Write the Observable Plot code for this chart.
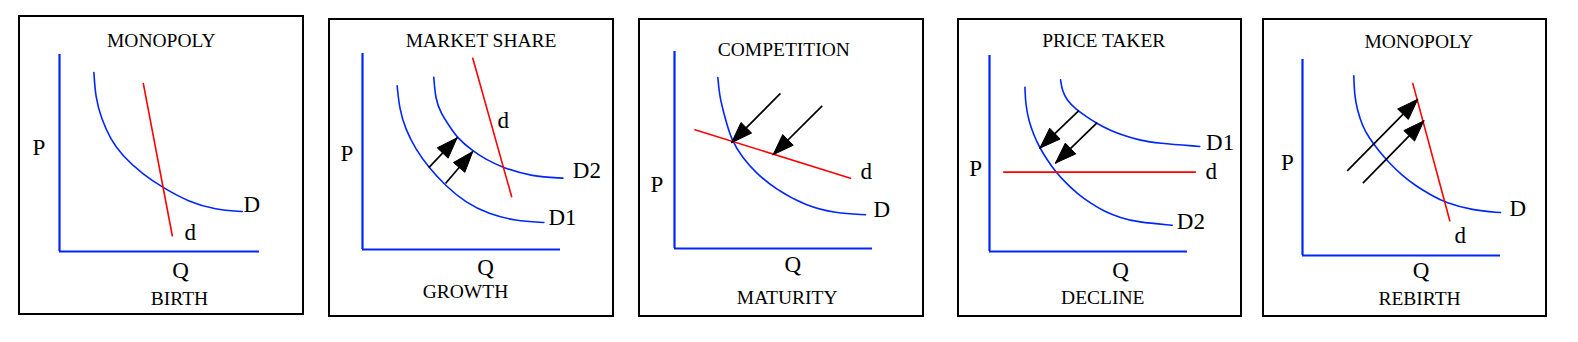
<!DOCTYPE html>
<html>
<head>
<meta charset="utf-8">
<script src="https://cdn.jsdelivr.net/npm/d3@7"></script>
<script src="https://cdn.jsdelivr.net/npm/@observablehq/plot@0.6"></script>
<style>
  html, body { margin: 0; padding: 0; background: #fff; }
  body { position: relative; width: 1578px; height: 342px; overflow: hidden; }
  .chart { position: absolute; max-width: none !important; background: transparent !important; overflow: visible; }
  .frame { position: absolute; border: 2px solid #000; box-sizing: border-box; pointer-events: none; }
</style>
</head>
<body>
<script>
// ---------- text ----------
const titles = ["MONOPOLY", "MARKET SHARE", "COMPETITION", "PRICE TAKER", "MONOPOLY"];
const stages = ["BIRTH", "GROWTH", "MATURITY", "DECLINE", "REBIRTH"];

// ---------- data: [Q, P] in axis units (0-100) ----------
const birthDemand = [[17.2,90.9],[18,78.2],[21,67.2],[25.5,57.0],[31.4,48.6],[41.4,39.4],[52.2,32.1],[64.7,25.2],[78,21.2],[91.4,20.3]];
const birthFirmDemand = [[41.9,85.3],[56.4,8.0]];

const growthDemand1 = [[17.5,83.5],[18.7,71.6],[21.7,61.4],[26.8,51.2],[33.5,41.8],[41.9,32.5],[52.0,24.0],[63.8,18.0],[77.3,14.6],[91.6,13.8]];
const growthDemand2 = [[36.0,87.8],[36.9,76.7],[39.4,69.9],[44.4,62.2],[47.8,57.1],[55.4,50.4],[62.1,46.1],[70.6,41.8],[85.7,37.2],[101.2,36.4]];
const growthFirmDemand = [[55.7,97.6],[75.3,27.0]];
const growthShifts = [[[33.5,41.8],[47.8,57.0]], [[41.9,33.7],[55.7,50.0]]];

const maturityDemand = [[21.9,86.8],[22.7,77.5],[25.2,67.5],[28.8,54.7],[34.5,46.0],[40.9,38.6],[51.0,30.1],[66.2,21.7],[81.3,17.9],[96.5,17.1]];
const maturityFirmDemand = [[10.3,60.3],[88.9,35.7]];
const maturityShifts = [[[53.5,78.7],[28.8,53.7]], [[74.6,72.4],[49.8,47.6]]];

const declineDemand1 = [[35.9,87.6],[36.7,82.1],[39.2,77.0],[43.4,72.8],[49.3,68.5],[54.4,65.2],[61.1,61.7],[67.8,59.2],[76.3,56.6],[84.7,55.3],[106.2,53.6]];
const declineDemand2 = [[17.9,83.8],[18.2,75.4],[19.8,66.8],[22.4,59.2],[25.4,52.9],[29.1,46.8],[33.3,40.8],[39.2,34.3],[44.3,29.6],[51.0,24.6],[57.7,20.6],[66.2,17.2],[74.6,15.0],[92.3,13.4]];
const declineFirmDemand = [[7.2,40.5],[104.0,40.5]];
const declineShifts = [[[45.1,71.9],[25.4,52.7]], [[54.4,65.7],[33.3,45.1]]];

const rebirthDemand = [[25.9,91.7],[26.3,81.5],[27.6,74.6],[30.2,66.2],[33.5,60.2],[38.5,53.4],[43.6,47.4],[50.4,40.7],[57.1,35.6],[65.5,30.5],[72.2,27.0],[85.7,23.1],[100,21.9]];
const rebirthFirmDemand = [[55.7,87.8],[74.4,17.7]];
const rebirthShifts = [[[22.6,43.2],[58.2,79.7]], [[30.5,36.9],[61.3,68.7]]];

// ---------- layout (pixel boxes, axis placement, label anchors) ----------
const layout = [
  { box:[18,15,286,300], axis:[59,251,259,54],
    curves:[birthDemand], lines:[birthFirmDemand], arrows:[],
    labels:[{t:"D",q:92.0,p:19.8},{t:"d",q:62.5,p:5.7},{t:"P",q:-13.5,p:48.9}],
    q:[60.5,-13.2], title:[50.9,103.9], stage:[60.0,-27.3] },
  { box:[328,18,286,299], axis:[362,249,560,53],
    curves:[growthDemand1, growthDemand2], lines:[growthFirmDemand], arrows:growthShifts,
    labels:[{t:"d",q:68.2,p:61.9},{t:"D2",q:106.2,p:36.4},{t:"D1",q:93.9,p:12.6},{t:"P",q:-11.1,p:44.9}],
    q:[62.1,-12.8], title:[59.9,103.1], stage:[52.0,-24.5] },
  { box:[638,18,286,299], axis:[674,248,872,51],
    curves:[maturityDemand], lines:[maturityFirmDemand], arrows:maturityShifts,
    labels:[{t:"d",q:93.9,p:35.2},{t:"D",q:100.5,p:16.2},{t:"P",q:-12.1,p:28.9}],
    q:[59.7,-11.7], title:[55.2,97.8], stage:[56.9,-28.3] },
  { box:[957,18,285,299], axis:[989,251,1187,55],
    curves:[declineDemand1, declineDemand2], lines:[declineFirmDemand], arrows:declineShifts,
    labels:[{t:"D1",q:109.4,p:51.9},{t:"d",q:109.1,p:36.9},{t:"D2",q:94.6,p:11.4},{t:"P",q:-10.2,p:38.6}],
    q:[66.2,-13.3], title:[57.7,104.1], stage:[57.2,-26.9] },
  { box:[1262,18,285,299], axis:[1302,255,1500,59],
    curves:[rebirthDemand], lines:[rebirthFirmDemand], arrows:rebirthShifts,
    labels:[{t:"D",q:104.6,p:19.9},{t:"d",q:76.8,p:6.6},{t:"P",q:-10.9,p:43.7}],
    q:[59.9,-11.7], title:[58.7,106.1], stage:[59.1,-25.4] }
];

const BLUE = "#0026ff", RED = "#ff0000", FONT = "Liberation Serif, Times New Roman, serif";

function panel(cfg, i) {
  const [bx, by, bw, bh] = cfg.box;
  const [ox, oy, xe, yt] = cfg.axis;
  const kx = (xe - ox) / 100, ky = (oy - yt) / 100;
  const heads = [];
  cfg.arrows.forEach((a, j) => {
    const [[q0, p0], [q1, p1]] = a;
    const dx = (q1 - q0) * kx, dy = (p1 - p0) * ky, len = Math.hypot(dx, dy);
    const ux = dx / len, uy = dy / len, L = 21, H = 7.5;
    const cx = q1 * kx - ux * L, cy = p1 * ky - uy * L;
    heads.push({id: j, q: q1, p: p1},
               {id: j, q: (cx - uy * H) / kx, p: (cy + ux * H) / ky},
               {id: j, q: (cx + uy * H) / kx, p: (cy - ux * H) / ky},
               {id: j, q: q1, p: p1});
  });
  const marks = [
    Plot.ruleX([0], {y1: 0, y2: 100, stroke: BLUE, strokeWidth: 2.2}),
    Plot.ruleY([0], {x1: 0, x2: 100, stroke: BLUE, strokeWidth: 2.2}),
    ...cfg.curves.map(c => Plot.line(c, {x: d => d[0], y: d => d[1], stroke: BLUE, strokeWidth: 1.6, curve: "basis"})),
    ...cfg.lines.map(c => Plot.line(c, {x: d => d[0], y: d => d[1], stroke: RED, strokeWidth: 1.6})),
    Plot.link(cfg.arrows, {x1: d => d[0][0], y1: d => d[0][1], x2: d => d[1][0], y2: d => d[1][1], stroke: "#000", strokeWidth: 1.7}),
    Plot.line(heads, {x: "q", y: "p", z: "id", fill: "#000", stroke: "#000", strokeWidth: 1, curve: "linear"}),
    Plot.text(cfg.labels, {x: "q", y: "p", text: "t", textAnchor: "start", lineAnchor: "bottom", fontSize: 23, fontFamily: FONT, fill: "#000"}),
    Plot.text([{t: "Q", q: cfg.q[0], p: cfg.q[1]}], {x: "q", y: "p", text: "t", textAnchor: "middle", lineAnchor: "bottom", fontSize: 23, fontFamily: FONT, fill: "#000"}),
    Plot.text([{t: titles[i], q: cfg.title[0], p: cfg.title[1]}, {t: stages[i], q: cfg.stage[0], p: cfg.stage[1]}],
      {x: "q", y: "p", text: "t", textAnchor: "middle", lineAnchor: "bottom", fontSize: 19.5, fontFamily: FONT, fill: "#000"})
  ];
  const svg = Plot.plot({
    width: bw, height: bh,
    marginLeft: ox - bx, marginRight: bx + bw - xe,
    marginTop: yt - by, marginBottom: by + bh - oy,
    x: {domain: [0, 100], axis: null},
    y: {domain: [0, 100], axis: null},
    style: {background: "transparent", overflow: "visible", maxWidth: "none"},
    marks
  });
  svg.classList.add("chart");
  svg.style.left = bx + "px";
  svg.style.top = by + "px";
  document.body.appendChild(svg);
  const f = document.createElement("div");
  f.className = "frame";
  Object.assign(f.style, {left: bx + "px", top: by + "px", width: bw + "px", height: bh + "px"});
  document.body.appendChild(f);
}

layout.forEach(panel);
</script>
</body>
</html>
